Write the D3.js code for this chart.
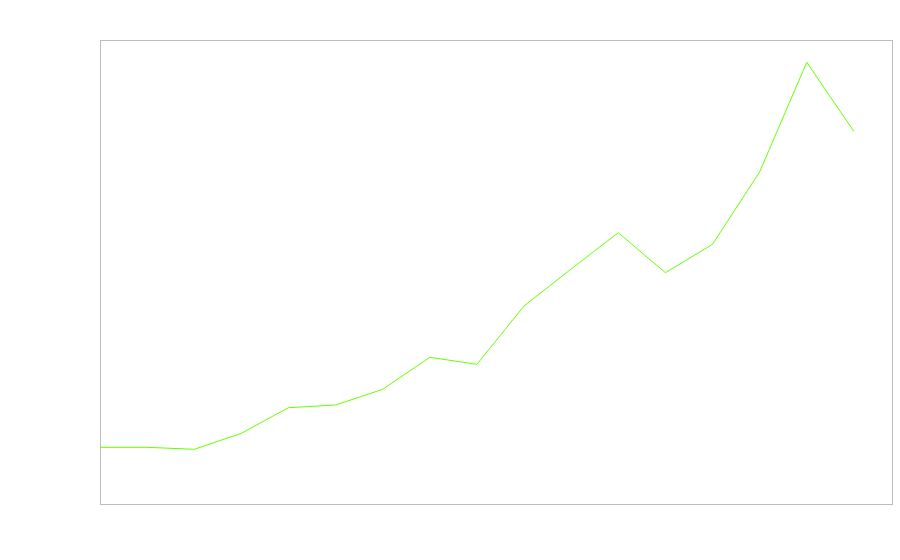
<!DOCTYPE html>
<html>
<head>
<meta charset="utf-8">
<script src="https://cdn.jsdelivr.net/npm/d3@7"></script>
<style>
  body { margin: 0; background: #fff; }
</style>
</head>
<body>
<script>
// data (index along x, value in plot units)
const xIndex = [0, 1, 2, 3, 4, 5, 6, 7, 8, 9, 10, 11, 12, 13, 14, 15, 16];
const values = [56.7, 56.7, 54.7, 70.7, 96.3, 99, 114.7, 146.7, 139.7, 198, 235, 271.3, 231.3, 259.7, 332, 441.7, 372.7];
const xDomain = [0, 16.81];
const yDomain = [0, 464];

const width = 900, height = 560;
const margin = { top: 40, right: 8, bottom: 56, left: 100 };

const svg = d3.select("body").append("svg")
  .attr("width", width)
  .attr("height", height);

const x = d3.scaleLinear().domain(xDomain).range([margin.left, width - margin.right]);
const y = d3.scaleLinear().domain(yDomain).range([height - margin.bottom, margin.top]);

// plot frame
svg.append("rect")
  .attr("x", x.range()[0] + 0.5)
  .attr("y", y.range()[1] + 0.5)
  .attr("width", x.range()[1] - x.range()[0])
  .attr("height", y.range()[0] - y.range()[1])
  .attr("fill", "none")
  .attr("stroke", "#bdbdbd")
  .attr("stroke-width", 1);

const data = xIndex.map((d, i) => ({ x: d, v: values[i] }));

const line = d3.line()
  .x(d => x(d.x))
  .y(d => y(d.v));

svg.append("path")
  .datum(data)
  .attr("fill", "none")
  .attr("stroke", "#66ff00")
  .attr("stroke-width", 1)
  .attr("d", line);
</script>
</body>
</html>
